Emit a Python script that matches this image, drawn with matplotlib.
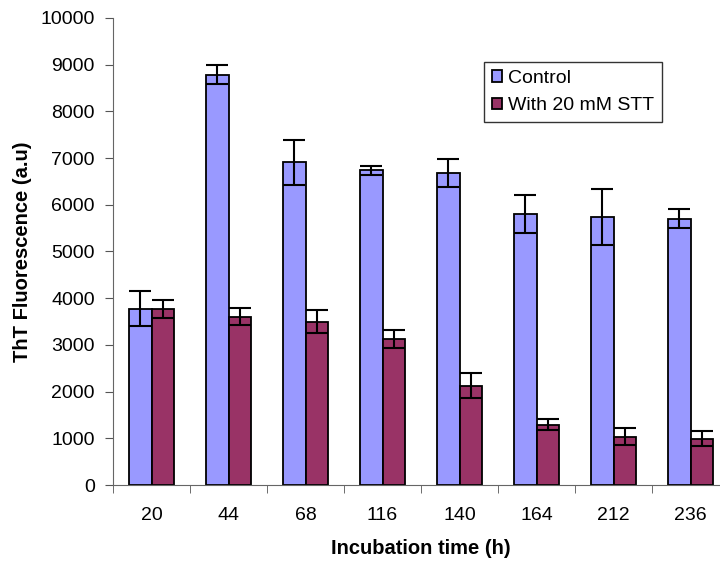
import numpy as np
import matplotlib.pyplot as plt

plt.rcParams['font.family'] = ['Liberation Sans', 'DejaVu Sans']

hours = ["20", "44", "68", "116", "140", "164", "212", "236"]
control = [3770, 8785, 6907, 6735, 6678, 5800, 5735, 5700]
control_err = [375, 200, 490, 100, 300, 400, 600, 205]
stt = [3770, 3607, 3500, 3128, 2128, 1293, 1036, 993]
stt_err = [200, 190, 250, 185, 270, 120, 190, 155]

fig = plt.figure(figsize=(7.2, 5.62), dpi=100)
ax = fig.add_axes([113 / 720, 1 - 485 / 562, 616 / 720, 467 / 562])

x = np.arange(len(hours))
w = 0.286
ax.bar(x - w / 2, control, w, color="#9999FF", edgecolor="black", linewidth=1.3,
       label="Control", zorder=2)
ax.bar(x + w / 2, stt, w, color="#993366", edgecolor="black", linewidth=1.3,
       label="With 20 mM STT", zorder=2)
ax.errorbar(x - w / 2, control, yerr=control_err, fmt="none", ecolor="black",
            elinewidth=1.5, capsize=8, capthick=1.5, zorder=3)
ax.errorbar(x + w / 2, stt, yerr=stt_err, fmt="none", ecolor="black",
            elinewidth=1.5, capsize=8, capthick=1.5, zorder=3)

ax.set_xlim(-0.5, len(hours) - 0.5)
ax.set_ylim(0, 10000)
ax.set_yticks(range(0, 10001, 1000))
ax.set_xticks(x)
ax.set_xticklabels(hours)
ax.set_xticks(np.arange(-0.5, len(hours)), minor=True)
ax.tick_params(axis="x", which="major", length=0, pad=16, labelsize=14)
ax.tick_params(axis="x", which="minor", length=6, direction="out", color="#555555")
ax.tick_params(axis="y", length=6, direction="out", labelsize=14, pad=7, color="#555555")

ax.spines["top"].set_visible(False)
ax.spines["right"].set_visible(False)
ax.spines["left"].set_color("#666666")
ax.spines["bottom"].set_color("#666666")

ax.set_xlabel("Incubation time (h)", fontsize=14.5, fontweight="bold", labelpad=11)
ax.set_ylabel("ThT Fluorescence (a.u)", fontsize=14.5, fontweight="bold", labelpad=6)

leg = ax.legend(loc="upper left", bbox_to_anchor=(371 / 616, 1 - 44 / 467), fontsize=14,
                frameon=True, fancybox=False, edgecolor="black",
                handlelength=0.55, handleheight=0.55, handletextpad=0.3,
                borderpad=0.4, labelspacing=0.55, borderaxespad=0)
leg.get_frame().set_linewidth(1.0)

fig.savefig("out.png", dpi=100)
